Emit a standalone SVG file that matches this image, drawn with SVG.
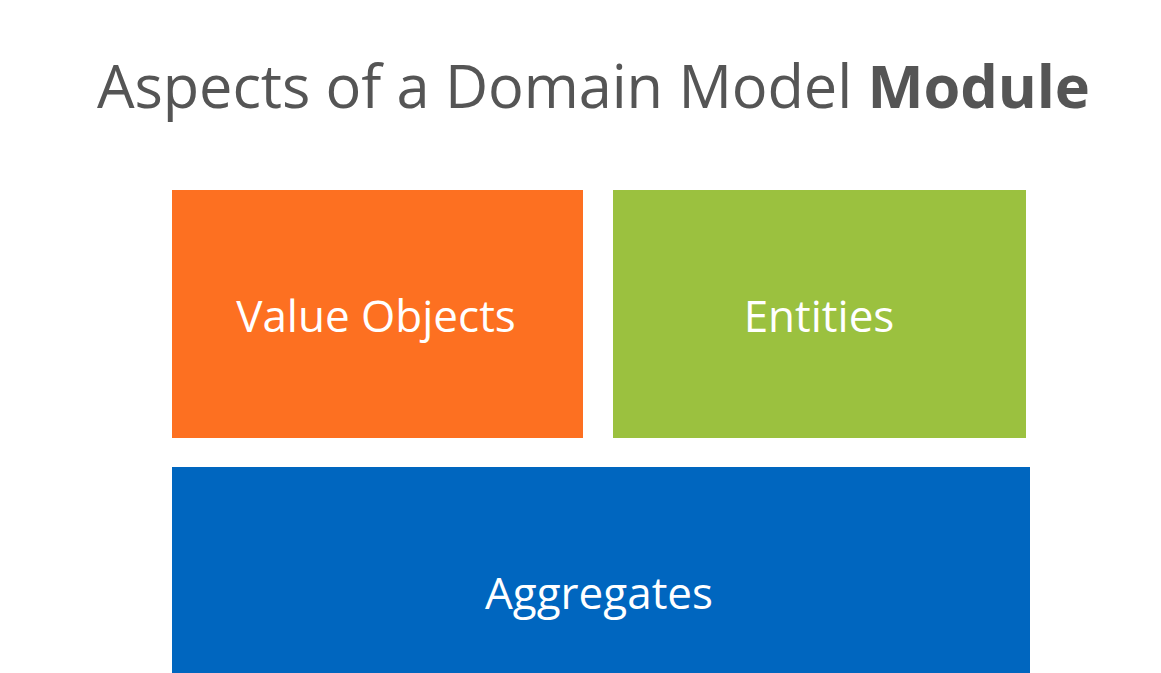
<svg xmlns="http://www.w3.org/2000/svg" width="1161" height="673" viewBox="0 0 1161 673">
  <style>
    .title { font-family: "Open Sans", "Noto Sans", sans-serif; font-size: 59.5px; fill: #555555; }
    .label { font-family: "Open Sans", "Noto Sans", sans-serif; font-size: 44px; fill: #ffffff; text-anchor: middle; }
  </style>
  <rect x="0" y="0" width="1161" height="673" fill="#ffffff"/>
  <text class="title" x="97" y="108" textLength="993" lengthAdjust="spacing">Aspects of a Domain Model <tspan font-weight="bold">Module</tspan></text>
  <g id="value-objects">
    <rect x="172" y="190" width="411" height="248" fill="#fd7021"/>
    <text class="label" x="376" y="332">Value Objects</text>
  </g>
  <g id="entities">
    <rect x="613" y="190" width="413" height="248" fill="#9bc13f"/>
    <text class="label" x="819" y="332">Entities</text>
  </g>
  <g id="aggregates">
    <rect x="172" y="467" width="858" height="206" fill="#0066bf"/>
    <text class="label" x="599" y="609">Aggregates</text>
  </g>
  <g id="connectors"></g>
</svg>
